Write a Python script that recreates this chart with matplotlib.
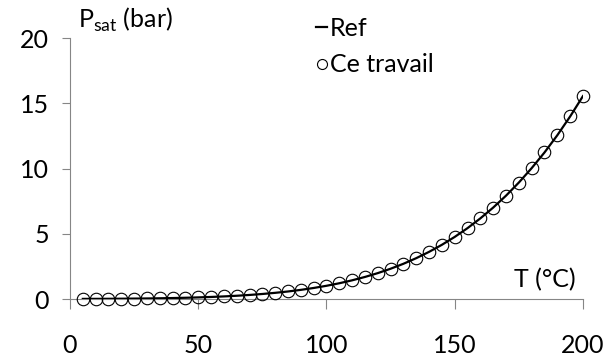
import matplotlib.pyplot as plt

# Saturation pressure data
temp_c = [5, 10, 15, 20, 25, 30, 35, 40, 45, 50, 55, 60, 65, 70, 75, 80, 85, 90, 95, 100,
          105, 110, 115, 120, 125, 130, 135, 140, 145, 150, 155, 160, 165, 170, 175, 180,
          185, 190, 195, 200]
psat_ref = [0.009, 0.012, 0.017, 0.023, 0.032, 0.042, 0.056, 0.074, 0.096, 0.124,
            0.158, 0.199, 0.250, 0.312, 0.386, 0.474, 0.578, 0.701, 0.846, 1.014,
            1.208, 1.433, 1.691, 1.985, 2.321, 2.701, 3.131, 3.614, 4.155, 4.760,
            5.433, 6.181, 7.008, 7.920, 8.925, 10.03, 11.23, 12.55, 13.99, 15.55]
psat_calc = list(psat_ref)

x_ticks = [0, 50, 100, 150, 200]
y_ticks = [0, 5, 10, 15, 20]

FONT = ["Lato", "DejaVu Sans"]
AXIS_GREY = "#868686"

plt.rcParams["font.family"] = FONT

fig = plt.figure(figsize=(6.06, 3.60), dpi=100)
ax = fig.add_axes([0.1155, 0.1694, 0.8465, 0.725])

ax.plot(temp_c, psat_ref, color="black", lw=1.6, label="Ref", zorder=3)
ax.plot(temp_c, psat_calc, ls="none", marker="o", ms=9, mfc="none", mec="black",
        mew=0.8, label="Ce travail", clip_on=False, zorder=4)

ax.set_xlim(0, 200)
ax.set_ylim(0, 20)
ax.set_xticks(x_ticks)
ax.set_yticks(y_ticks)

for side in ("top", "right"):
    ax.spines[side].set_visible(False)
for side in ("left", "bottom"):
    ax.spines[side].set_color(AXIS_GREY)
    ax.spines[side].set_linewidth(0.8)

ax.tick_params(axis="y", direction="out", length=6, width=0.8, color=AXIS_GREY,
               pad=9, labelsize=18)
ax.tick_params(axis="x", direction="out", length=7, width=0.8, color=AXIS_GREY,
               pad=18, labelsize=18)

ax.text(3, 20.3, r"P$_{\mathregular{sat}}$ (bar)", fontsize=18, ha="left", va="bottom")
ax.text(197, 0.6, "T (°C)", fontsize=18, ha="right", va="bottom")

ax.legend(loc="upper left", bbox_to_anchor=(0.46, 1.12), frameon=False, fontsize=18,
          handlelength=0.45, handletextpad=0.1, labelspacing=0.55, borderaxespad=0,
          markerscale=0.8)

fig.savefig("out.png", dpi=100)
